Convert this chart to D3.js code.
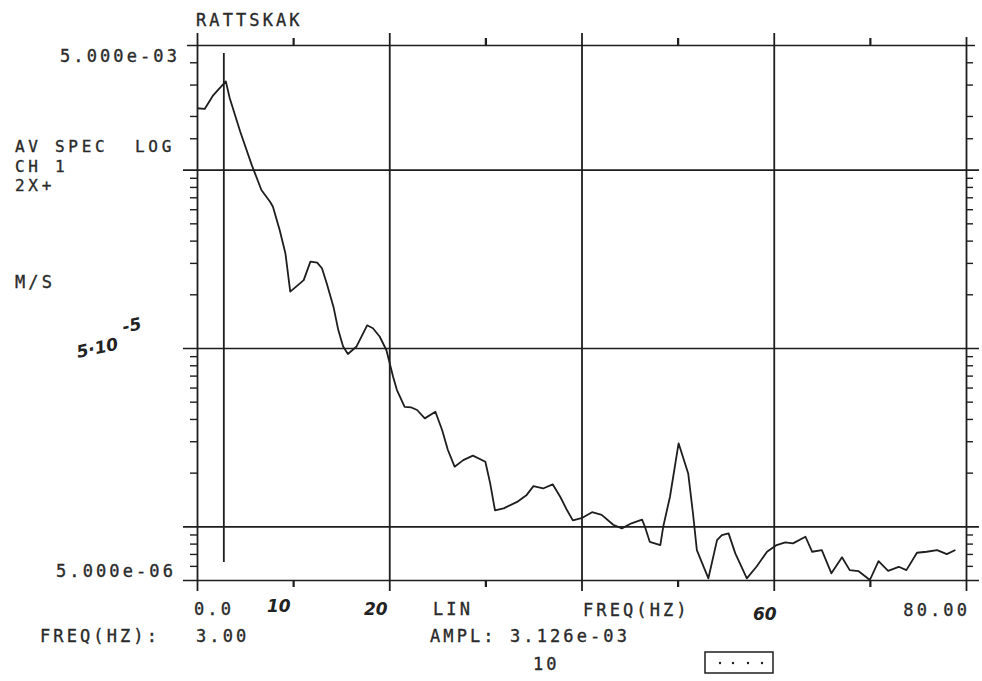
<!DOCTYPE html>
<html>
<head>
<meta charset="utf-8">
<script src="https://cdn.jsdelivr.net/npm/d3@7"></script>
<style>
  html, body { margin: 0; padding: 0; background: #fff; }
  svg { display: block; }
  .mono { font-family: "DejaVu Sans Mono", "Liberation Mono", monospace; font-size: 17px; letter-spacing: 3.1px; fill: #2a2a2a; stroke: #2a2a2a; stroke-width: 0.35px; white-space: pre; }
  .info { font-size: 16px; letter-spacing: 3.7px; }
  .hand { font-family: "DejaVu Sans", sans-serif; font-style: italic; font-size: 17px; fill: #222; font-weight: bold; }
</style>
</head>
<body>
<svg id="chart" width="982" height="681"></svg>
<script>
// ---- data ----
const freqs = [0,0.8,1.7,3.0,3.4,4.5,5.7,6.7,7.6,7.9,8.6,9.2,9.7,10.5,11.1,11.8,12.5,13.0,13.5,14.2,
  14.7,15.2,15.7,16.6,17.7,18.3,19.0,19.7,20.4,20.8,21.6,22.3,22.9,23.7,24.8,25.5,26.1,26.8,27.7,28.7,
  30.0,30.5,31.0,31.9,33.3,34.3,35.0,36.0,37.0,37.8,38.5,39.1,40.0,41.1,42.1,43.3,44.2,45.2,46.3,46.6,
  47.1,48.2,48.5,49.2,50.1,51.1,51.6,52.0,53.2,54.1,54.6,55.3,56.0,57.2,58.2,59.3,60.3,61.2,62.0,63.3,
  64.0,65.0,66.0,67.1,67.9,68.8,70.0,70.9,71.9,73.0,73.8,74.9,75.9,77.0,78.0,78.9];
const amps = [2.21e-3,2.19e-3,2.62e-3,3.126e-3,2.52e-3,1.63e-3,1.06e-3,7.69e-4,6.61e-4,6.20e-4,
  4.59e-4,3.39e-4,2.07e-4,2.25e-4,2.40e-4,3.05e-4,3.01e-4,2.80e-4,2.30e-4,1.70e-4,
  1.26e-4,1.02e-4,9.25e-5,1.02e-4,1.34e-4,1.29e-4,1.16e-4,9.74e-5,6.90e-5,5.81e-5,
  4.68e-5,4.64e-5,4.49e-5,4.03e-5,4.39e-5,3.47e-5,2.68e-5,2.16e-5,2.35e-5,2.49e-5,
  2.30e-5,1.74e-5,1.23e-5,1.26e-5,1.37e-5,1.50e-5,1.68e-5,1.63e-5,1.72e-5,1.46e-5,
  1.23e-5,1.08e-5,1.11e-5,1.20e-5,1.16e-5,1.02e-5,9.74e-6,1.04e-5,1.09e-5,9.94e-6,
  8.19e-6,7.85e-6,9.94e-6,1.46e-5,2.92e-5,1.98e-5,1.18e-5,7.36e-6,5.11e-6,8.37e-6,
  8.93e-6,9.13e-6,7.05e-6,5.11e-6,5.93e-6,7.20e-6,7.85e-6,8.13e-6,8.02e-6,8.74e-6,
  7.20e-6,7.36e-6,5.45e-6,6.70e-6,5.68e-6,5.61e-6,5.0e-6,6.38e-6,5.63e-6,5.93e-6,
  5.68e-6,7.11e-6,7.20e-6,7.36e-6,6.98e-6,7.36e-6];

const xDomain = [0, 80];
const yDomain = [5e-6, 5e-3];
const xMajor = [0, 20, 40, 60, 80];
const xMinor = [10, 30, 50, 70];
const yGrid = [5e-6, 1e-5, 1e-4, 1e-3, 5e-3];
const yMinor = [6e-6,7e-6,8e-6,9e-6,
  2e-5,3e-5,4e-5,5e-5,6e-5,7e-5,8e-5,9e-5,
  2e-4,3e-4,4e-4,5e-4,6e-4,7e-4,8e-4,9e-4,
  1.5e-3,2e-3,3e-3,4e-3];
const xTickLabels = [{v: 0, t: "0.0"}, {v: 80, t: "80.00"}];
const yTickLabels = [{v: 5e-3, t: "5.000e-03"}, {v: 5e-6, t: "5.000e-06"}];
const infoLines = ["AV SPEC  LOG", "CH 1", "2X+"];
const cursorFreq = 3.0;
const cursorAmpl = "3.126e-03";
const title = "RATTSKAK";

// ---- drawing ----
const svg = d3.select("#chart");
const x = d3.scaleLinear().domain(xDomain).range([197, 966]);
const y = d3.scaleLog().domain(yDomain).range([580, 45]);
const ink = "#1e1e1e";

// horizontal grid lines (decades + frame)
const gH = svg.append("g")
  .attr("transform", "translate(183,0)")
  .call(d3.axisRight(y).tickValues(yGrid).tickSize(796).tickFormat(""));
gH.select(".domain").remove();
gH.selectAll("line").attr("stroke", ink).attr("stroke-width", 1.7);
gH.selectAll("line").filter(d => d === 5e-3).attr("x1", 4).attr("x2", 792);

// vertical frame + grid lines
const gV = svg.append("g")
  .attr("transform", "translate(0,591)")
  .call(d3.axisTop(x).tickValues(xMajor).tickSize(558).tickFormat(""));
gV.select(".domain").remove();
gV.selectAll("line").attr("stroke", ink).attr("stroke-width", 1.8);
gV.selectAll("line").filter(d => d === 80).attr("y2", -554);

// minor x ticks top and bottom
const gTopMinor = svg.append("g").attr("transform", "translate(0,45)")
  .call(d3.axisTop(x).tickValues(xMinor).tickSize(7).tickFormat(""));
gTopMinor.select(".domain").remove();
gTopMinor.selectAll("line").attr("stroke", ink).attr("stroke-width", 2.2);
const gBotMinor = svg.append("g").attr("transform", "translate(0,580)")
  .call(d3.axisBottom(x).tickValues(xMinor).tickSize(7).tickFormat(""));
gBotMinor.select(".domain").remove();
gBotMinor.selectAll("line").attr("stroke", ink).attr("stroke-width", 2.2);

// minor y ticks left and right
const gL = svg.append("g").attr("transform", "translate(" + x(0) + ",0)")
  .call(d3.axisLeft(y).tickValues(yMinor).tickSize(7).tickFormat(""));
gL.select(".domain").remove();
gL.selectAll("line").attr("stroke", ink).attr("stroke-width", 1.4);
const gR = svg.append("g").attr("transform", "translate(" + x(80) + ",0)")
  .call(d3.axisRight(y).tickValues(yMinor).tickSize(7).tickFormat(""));
gR.select(".domain").remove();
gR.selectAll("line").attr("stroke", ink).attr("stroke-width", 1.4);

// cursor
svg.append("line")
  .attr("x1", x(cursorFreq) - 2).attr("x2", x(cursorFreq) - 2)
  .attr("y1", 53).attr("y2", 562)
  .attr("stroke", ink).attr("stroke-width", 1.8);

// spectrum line
const pts = freqs.map((f, i) => [f, amps[i]]).filter(d => d[1] !== undefined);
svg.append("path")
  .datum(pts)
  .attr("fill", "none")
  .attr("stroke", ink)
  .attr("stroke-width", 1.8)
  .attr("stroke-linejoin", "round")
  .attr("d", d3.line().x(d => x(d[0])).y(d => y(d[1])));

// ---- text ----
function txt(s, px, py, anchor, cls) {
  return svg.append("text").attr("class", cls || "mono")
    .attr("x", px).attr("y", py)
    .attr("text-anchor", anchor || "start").text(s);
}
txt(title, 196, 26);
txt(yTickLabels[0].t, 180, y(yTickLabels[0].v) + 17, "end");
txt(yTickLabels[1].t, 176, y(yTickLabels[1].v) - 3, "end");

const infoY = [152, 171.5, 191];
infoLines.forEach((s, i) => txt(s, 15, infoY[i], "start", "mono info"));
txt("M/S", 15, 288);

txt(xTickLabels[0].t, x(xTickLabels[0].v) - 3, 615);
txt(xTickLabels[1].t, x(xTickLabels[1].v) + 4, 616, "end");
txt("LIN", 433, 615);
txt("FREQ(HZ)", 583, 616);

txt("FREQ(HZ):", 40, 642);
txt(cursorFreq.toFixed(2), 196, 642);
txt("AMPL: " + cursorAmpl, 430, 642);
txt("10", 533, 670);

// dotted legend box
svg.append("rect").attr("x", 705).attr("y", 652).attr("width", 68).attr("height", 21)
  .attr("fill", "none").attr("stroke", ink).attr("stroke-width", 1.5);
svg.selectAll("circle.dot").data([720, 733, 748, 762]).enter().append("circle")
  .attr("class", "dot").attr("cx", d => d).attr("cy", 663).attr("r", 1.2).attr("fill", ink);

// handwritten annotations
svg.append("text").attr("class", "hand").attr("x", 267).attr("y", 612).text("10");
svg.append("text").attr("class", "hand").attr("x", 364).attr("y", 615).text("20");
svg.append("text").attr("class", "hand").attr("x", 753).attr("y", 620).text("60");
const hw = svg.append("g").attr("transform", "translate(78,358) rotate(-12)");
hw.append("text").attr("class", "hand").attr("x", 0).attr("y", 0).attr("font-size", 19).text("5\u00B710");
hw.append("text").attr("class", "hand").attr("x", 50).attr("y", -15).attr("font-size", 16).text("-5");
</script>
</body>
</html>
